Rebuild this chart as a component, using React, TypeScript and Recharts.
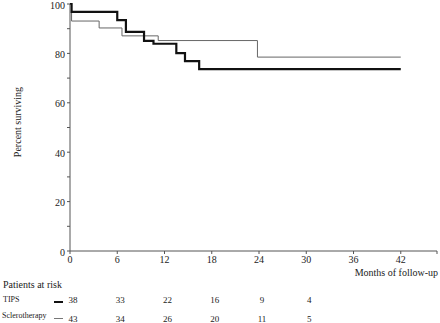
import { LineChart, Line, XAxis, YAxis } from 'recharts'

// Kaplan-Meier steps (months, % surviving)
const tipsMonths = [0, 0.2, 6.0, 7.1, 9.4, 10.6, 13.5, 14.6, 16.4, 42]
const tipsSurvival = [100, 96.8, 93.5, 88.7, 85.1, 83.9, 80.1, 76.9, 73.6, 73.6]
const scleroMonths = [0, 0.2, 3.7, 6.6, 11.2, 23.8, 42]
const scleroSurvival = [100, 93.1, 90.3, 87.1, 85.2, 78.5, 78.5]

// patients at risk table
const riskMonths = [0, 6, 12, 18, 24, 30]
const tipsAtRisk = [38, 33, 22, 16, 9, 4]
const scleroAtRisk = [43, 34, 26, 20, 11, 5]

const monthTicks = [0, 6, 12, 18, 24, 30, 36, 42, 46.6]
const percentTicks = [0, 10, 20, 30, 40, 50, 60, 70, 80, 90, 100]

const tipsData = tipsMonths.map((t, i) => ({ t, v: tipsSurvival[i] }))
const scleroData = scleroMonths.map((t, i) => ({ t, v: scleroSurvival[i] }))

const font = '"Liberation Serif", "Times New Roman", serif'
const tickStyle = { fontSize: 10, fontFamily: font, fill: '#222' }
const axisColor = '#555'

const textStyle = (left: number, top: number, size = 10) => ({
  position: 'absolute' as const,
  left,
  top,
  fontFamily: font,
  fontSize: size,
  lineHeight: '12px',
  color: '#222',
  whiteSpace: 'nowrap' as const,
})

// month label plus the at-risk counts under it
const MonthTick = (props: any) => {
  const { x, y, payload } = props
  const v = payload.value as number
  const i = riskMonths.indexOf(v)
  const small = { fontSize: 9, fontFamily: font, fill: '#222' }
  return (
    <g>
      {v <= 42 && (
        <text x={x} y={y} dy="0.71em" textAnchor="middle" style={tickStyle}>
          {v}
        </text>
      )}
      {i >= 0 && (
        <text x={x + 3} y={y + 46.5} textAnchor="middle" style={small}>
          {tipsAtRisk[i]}
        </text>
      )}
      {i >= 0 && (
        <text x={x + 3} y={y + 66} textAnchor="middle" style={small}>
          {scleroAtRisk[i]}
        </text>
      )}
    </g>
  )
}

export default function App() {
  return (
    <div style={{ position: 'absolute', left: 0, top: 0, width: 440, height: 323 }}>
      <LineChart width={440} height={323} margin={{ top: 4, right: 3, left: 0, bottom: 0 }}>
        <XAxis
          type="number"
          dataKey="t"
          domain={[0, 46.6]}
          ticks={monthTicks}
          interval={0}
          height={72}
          tickSize={3}
          tick={<MonthTick />}
          stroke={axisColor}
          allowDataOverflow
        />
        <YAxis
          type="number"
          domain={[0, 100]}
          ticks={percentTicks}
          interval={0}
          tickFormatter={(v: number) => (v % 20 === 0 ? String(v) : '')}
          width={70}
          tickSize={3}
          tickMargin={2}
          tick={{ ...tickStyle, dy: 1 }}
          stroke={axisColor}
        />
        <Line
          data={scleroData}
          dataKey="v"
          type="stepAfter"
          stroke="#666"
          strokeWidth={1}
          dot={false}
          isAnimationActive={false}
        />
        <Line
          data={tipsData}
          dataKey="v"
          type="stepAfter"
          stroke="#111"
          strokeWidth={2.2}
          dot={false}
          isAnimationActive={false}
        />
      </LineChart>

      <div
        style={{
          ...textStyle(18 - 45, 116),
          width: 90,
          textAlign: 'center',
          transform: 'rotate(-90deg)',
        }}
      >
        Percent surviving
      </div>
      <div style={{ ...textStyle(0, 267), left: undefined, right: 2 }}>Months of follow-up</div>
      <div style={textStyle(3, 279)}>Patients at risk</div>
      <div style={textStyle(3, 294, 8)}>TIPS</div>
      <div style={textStyle(2, 310, 8)}>Sclerotherapy</div>
      <div style={{ position: 'absolute', left: 54, top: 301, width: 9, height: 2, background: '#111' }} />
      <div style={{ position: 'absolute', left: 54, top: 318, width: 9, height: 1, background: '#777' }} />
    </div>
  )
}
